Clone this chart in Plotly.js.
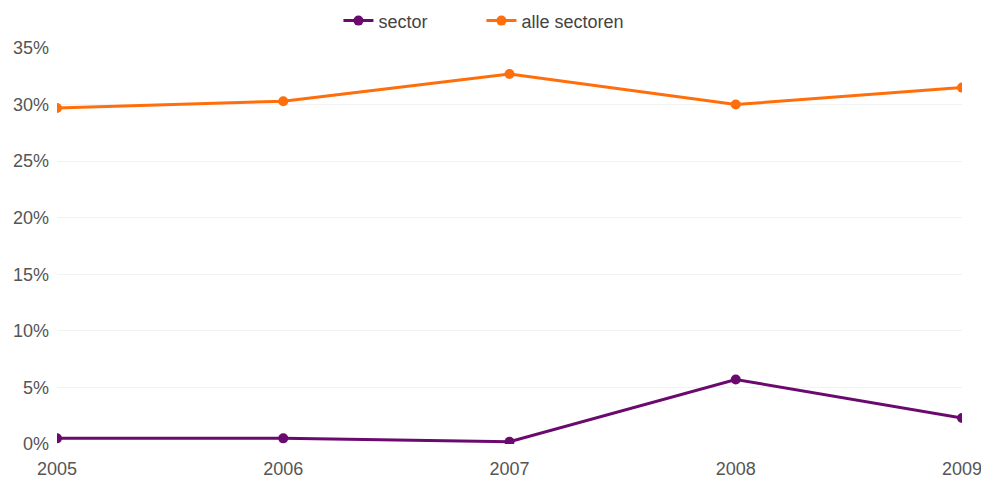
<!DOCTYPE html>
<html>
<head>
<meta charset="utf-8">
<script src="https://cdn.plot.ly/plotly-3.0.1.min.js"></script>
<style>html,body{margin:0;padding:0;background:#fff;}#chart{width:981px;height:481px;}</style>
</head>
<body>
<div id="chart"></div>
<script>
var years = ['2005', '2006', '2007', '2008', '2009'];
var sector = [0.5, 0.5, 0.2, 5.7, 2.3];
var alleSectoren = [29.7, 30.3, 32.7, 30.0, 31.5];
var yTickVals = [0, 5, 10, 15, 20, 25, 30, 35];
var yTickText = ['0%', '5%', '10%', '15%', '20%', '25%', '30%', '35%'];

var traces = [
  {x: years, y: sector, name: 'sector', type: 'scatter', mode: 'lines+markers',
   line: {color: '#6a0a6e', width: 3}, marker: {color: '#6a0a6e', size: 10}},
  {x: years, y: alleSectoren, name: 'alle sectoren', type: 'scatter', mode: 'lines+markers',
   line: {color: '#ff6e0a', width: 3}, marker: {color: '#ff6e0a', size: 10}}
];
var layout = {
  width: 981, height: 481,
  margin: {l: 57, r: 19, t: 48, b: 37},
  paper_bgcolor: '#fff', plot_bgcolor: '#fff',
  font: {family: 'Liberation Sans, Arial, sans-serif', size: 18, color: '#555'},
  showlegend: true,
  legend: {orientation: 'h', x: 0.345, xanchor: 'left', xref: 'container', y: 0.995, yanchor: 'top',
    yref: 'container', font: {size: 18, color: '#444'}, entrywidth: 98},
  xaxis: {type: 'category', range: [0, 4], showgrid: false, zeroline: false, showline: false,
    ticks: '', ticklabelstandoff: 12, tickfont: {size: 18, color: '#555'}, fixedrange: true},
  yaxis: {range: [0, 35], tickvals: yTickVals, ticktext: yTickText, showgrid: true,
    gridcolor: '#f2f2f2', zeroline: false, showline: false, ticks: '', ticklabelstandoff: 7,
    tickfont: {size: 18, color: '#555'}, fixedrange: true},
  hovermode: false
};
Plotly.newPlot('chart', traces, layout, {displayModeBar: false, staticPlot: true});
</script>
</body>
</html>
